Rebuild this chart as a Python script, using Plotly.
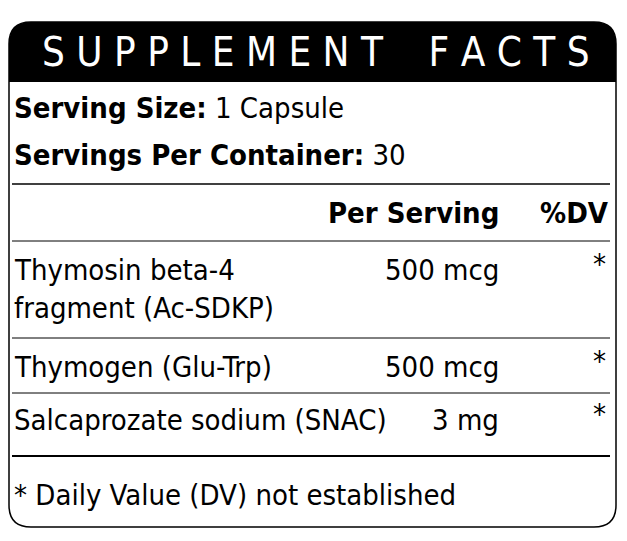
import plotly.graph_objects as go

title = "SUPPLEMENT FACTS"
serving_size = "1 Capsule"
servings_per_container = "30"
ingredients = [["Thymosin beta-4", "fragment (Ac-SDKP)"], ["Thymogen (Glu-Trp)"], ["Salcaprozate sodium (SNAC)"]]
amounts = ["500 mcg", "500 mcg", "3 mg"]
dv = ["*", "*", "*"]
row_y = [270, 367, 420]
footnote = "* Daily Value (DV) not established"

FONT = "DejaVu Sans Condensed, Liberation Sans Narrow, Liberation Sans"
W, H = 627, 541
OFF = 8  # page body margin

fig = go.Figure()
fig.update_layout(
    width=W - 2 * OFF, height=H - 2 * OFF, margin=dict(l=0, r=0, t=0, b=0),
    plot_bgcolor="white", paper_bgcolor="white", showlegend=False,
    xaxis=dict(range=[OFF, W - OFF], visible=False, fixedrange=True),
    yaxis=dict(range=[H - OFF, OFF], visible=False, fixedrange=True),
)

# outer rounded border and header bar
x0, y0, x1, y1, r = 9, 22, 616, 527, 22
border = (f"M {x0+r},{y0} L {x1-r},{y0} Q {x1},{y0} {x1},{y0+r} L {x1},{y1-r} "
          f"Q {x1},{y1} {x1-r},{y1} L {x0+r},{y1} Q {x0},{y1} {x0},{y1-r} "
          f"L {x0},{y0+r} Q {x0},{y0} {x0+r},{y0} Z")
header = (f"M {x0+r},{y0} L {x1-r},{y0} Q {x1},{y0} {x1},{y0+r} L {x1},82 "
          f"L {x0},82 L {x0},{y0+r} Q {x0},{y0} {x0+r},{y0} Z")
fig.add_shape(type="path", path=header, fillcolor="black", line=dict(width=0))
fig.add_shape(type="path", path=border, line=dict(color="black", width=1.5))

def hline(y, w):
    fig.add_shape(type="line", x0=12, x1=610, y0=y, y1=y, line=dict(color="black", width=w))

hline(184, 1.5)
hline(241, 1)
hline(338, 1)
hline(393, 1)
hline(456, 2)

def txt(x, y, s, anchor="left", size=29, color="black"):
    fig.add_annotation(x=x, y=y, text=s, showarrow=False, xanchor=anchor, yanchor="middle",
                       font=dict(family=FONT, size=size, color=color))

txt(316, 52, "&nbsp;".join(title).replace("&nbsp; &nbsp;", "&nbsp;&nbsp;&nbsp;&nbsp;"),
    anchor="center", size=40, color="white")
txt(12, 108, f"<b>Serving Size:</b> {serving_size}")
txt(12, 155, f"<b>Servings Per Container:</b> {servings_per_container}")
txt(501, 213, "<b>Per Serving</b>", anchor="right")
txt(611, 213, "<b>%DV</b>", anchor="right")
for lines, amt, d, y in zip(ingredients, amounts, dv, row_y):
    for i, ln in enumerate(lines):
        txt(12, y + i * 38, ln)
    txt(501, y, amt, anchor="right")
    txt(608, y - 6, d, anchor="right")
txt(12, 495, footnote)

fig.write_html("out.html")
